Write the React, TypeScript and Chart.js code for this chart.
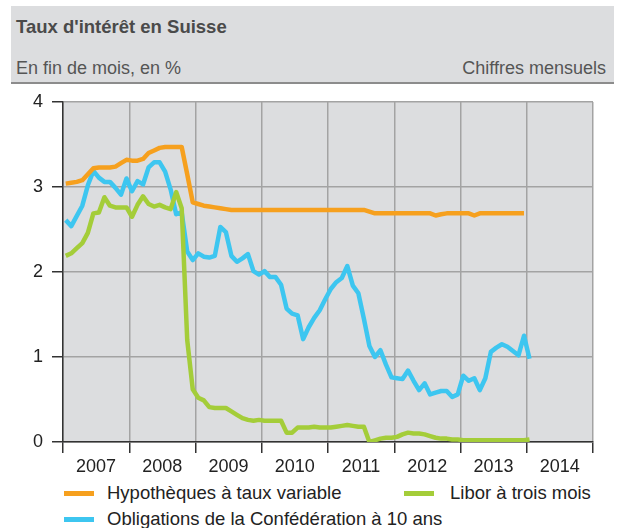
import { useEffect, useRef } from 'react';
import { Chart, registerables } from 'chart.js';

Chart.register(...registerables);

// ---- Data (monthly, Jan 2007 onward) ----
const yearLabels = ['2007', '2008', '2009', '2010', '2011', '2012', '2013', '2014'];
const yTickValues = [0, 1, 2, 3, 4];

const hypotheques = [
  3.04, 3.05, 3.06, 3.08, 3.15, 3.22, 3.23, 3.23, 3.23, 3.24,
  3.28, 3.32, 3.31, 3.31, 3.33, 3.40, 3.43, 3.46, 3.47, 3.47,
  3.47, 3.47, 3.15, 2.82, 2.80, 2.78, 2.77, 2.76, 2.75, 2.74,
  2.73, 2.73, 2.73, 2.73, 2.73, 2.73, 2.73, 2.73, 2.73, 2.73,
  2.73, 2.73, 2.73, 2.73, 2.73, 2.73, 2.73, 2.73, 2.73, 2.73,
  2.73, 2.73, 2.73, 2.73, 2.73, 2.71, 2.69, 2.69, 2.69, 2.69,
  2.69, 2.69, 2.69, 2.69, 2.69, 2.69, 2.69, 2.665, 2.68, 2.69,
  2.69, 2.69, 2.69, 2.69, 2.665, 2.69, 2.69, 2.69, 2.69, 2.69,
  2.69, 2.69, 2.69, 2.69,
];

const obligations = [
  2.61, 2.54, 2.66, 2.78, 3.02, 3.19, 3.11, 3.06, 3.06, 2.99,
  2.91, 3.10, 2.95, 3.07, 3.03, 3.23, 3.29, 3.29, 3.18, 2.97,
  2.68, 2.70, 2.24, 2.14, 2.22, 2.18, 2.17, 2.19, 2.53, 2.47,
  2.19, 2.12, 2.16, 2.21, 2.01, 1.97, 2.01, 1.94, 1.94, 1.85,
  1.57, 1.51, 1.49, 1.21, 1.35, 1.46, 1.55, 1.68, 1.80, 1.88,
  1.93, 2.07, 1.84, 1.75, 1.45, 1.13, 1.00, 1.08, 0.91, 0.76,
  0.75, 0.74, 0.84, 0.72, 0.61, 0.69, 0.56, 0.58, 0.60, 0.60,
  0.53, 0.56, 0.78, 0.72, 0.75, 0.61, 0.75, 1.06, 1.11, 1.15,
  1.12, 1.07, 1.02, 1.25, 0.98,
];

const libor = [
  2.19, 2.22, 2.28, 2.34, 2.46, 2.69, 2.70, 2.88, 2.78, 2.76,
  2.76, 2.76, 2.65, 2.79, 2.89, 2.80, 2.77, 2.79, 2.76, 2.74,
  2.94, 2.75, 1.20, 0.62, 0.52, 0.49, 0.41, 0.40, 0.40, 0.40,
  0.36, 0.32, 0.28, 0.26, 0.25, 0.26, 0.25, 0.25, 0.25, 0.25,
  0.11, 0.11, 0.17, 0.17, 0.17, 0.18, 0.17, 0.17, 0.17, 0.18,
  0.19, 0.20, 0.19, 0.18, 0.18, 0.00, 0.02, 0.04, 0.05, 0.05,
  0.06, 0.09, 0.11, 0.10, 0.10, 0.09, 0.07, 0.05, 0.04, 0.04,
  0.03, 0.03, 0.02, 0.02, 0.02, 0.02, 0.02, 0.02, 0.02, 0.02,
  0.02, 0.02, 0.02, 0.02, 0.03,
];

const seriesNames = [
  'Hypothèques à taux variable',
  'Libor à trois mois',
  'Obligations de la Confédération à 10 ans',
];

const ORANGE = '#f6a01e';
const GREEN = '#a4cd39';
const BLUE = '#3dc6f0';
const FONT = '"Liberation Sans", Arial, Helvetica, sans-serif';

const toPoints = (values: number[]) => values.map((v, i) => ({ x: i + 0.5, y: v }));

const plotBg = {
  id: 'plotBg',
  beforeDraw(chart: any) {
    const { ctx, chartArea } = chart;
    ctx.save();
    ctx.fillStyle = '#dcdddf';
    ctx.fillRect(chartArea.left, chartArea.top, chartArea.right - chartArea.left, chartArea.bottom - chartArea.top);
    ctx.restore();
  },
};

function InterestChart() {
  const ref = useRef<HTMLCanvasElement | null>(null);
  useEffect(() => {
    if (!ref.current) return;
    const gridColor = '#a3a3a3';
    const axisColor = '#333333';
    const chart = new Chart(ref.current, {
      type: 'line',
      data: {
        datasets: [
          { label: seriesNames[0], data: toPoints(hypotheques), borderColor: ORANGE, order: 0 },
          { label: seriesNames[1], data: toPoints(libor), borderColor: GREEN, order: 1 },
          { label: seriesNames[2], data: toPoints(obligations), borderColor: BLUE, order: 2 },
        ],
      },
      options: {
        responsive: false,
        animation: false,
        devicePixelRatio: 1,
        layout: { padding: { left: 0, right: 29, top: 12, bottom: 0 } },
        plugins: { legend: { display: false }, tooltip: { enabled: false } },
        elements: {
          line: { borderWidth: 4.5, tension: 0, borderJoinStyle: 'round', borderCapStyle: 'butt', fill: false },
          point: { radius: 0 },
        },
        scales: {
          x: {
            type: 'linear',
            min: 0,
            max: yearLabels.length * 12,
            afterBuildTicks: (scale: any) => {
              const t = yearLabels.map((_, k) => ({ value: k * 12 }));
              t.push({ value: yearLabels.length * 12 });
              scale.ticks = t;
            },
            afterFit: (scale: any) => {
              scale.height = 38;
              scale.paddingLeft = 0;
              scale.paddingRight = 0;
            },
            ticks: {
              autoSkip: false,
              maxRotation: 0,
              minRotation: 0,
              labelOffset: 33,
              padding: 3,
              color: '#222',
              font: { family: FONT, size: 18 },
              callback: (v: any) => yearLabels[Math.round(Number(v) / 12)] ?? '',
            },
            grid: { color: gridColor, lineWidth: 1.5, tickLength: 11, tickColor: axisColor, tickWidth: 1.5 },
            border: { color: axisColor, width: 1.5 },
          },
          y: {
            min: 0,
            max: 4,
            afterBuildTicks: (scale: any) => { scale.ticks = yTickValues.map((v) => ({ value: v })); },
            afterFit: (scale: any) => {
              scale.width = 63;
              scale.paddingTop = 0;
              scale.paddingBottom = 0;
            },
            ticks: {
              padding: 9,
              color: '#222',
              font: { family: FONT, size: 18 },
              callback: (v: any) => String(v),
            },
            grid: { color: gridColor, lineWidth: 1.5, tickLength: 11, tickColor: axisColor, tickWidth: 1.5 },
            border: { color: axisColor, width: 1.5 },
          },
        },
      } as any,
      plugins: [plotBg],
    });
    return () => chart.destroy();
  }, []);
  return (
    <canvas
      ref={ref}
      width={622}
      height={390}
      style={{ position: 'absolute', left: 0, top: 90, width: 622, height: 390 }}
    />
  );
}

export default function App() {
  const legendItems = [
    { name: seriesNames[0], color: ORANGE, left: 64, textLeft: 107, cy: 493 },
    { name: seriesNames[1], color: GREEN, left: 404, textLeft: 450, cy: 493 },
    { name: seriesNames[2], color: BLUE, left: 64, textLeft: 107, cy: 519 },
  ];
  const textBase: any = { position: 'absolute', fontFamily: FONT, fontSize: 18, lineHeight: '21px', whiteSpace: 'nowrap' };
  return (
    <div style={{ position: 'absolute', left: 0, top: 0, width: 622, height: 528, background: '#fff', overflow: 'hidden' }}>
      <div
        style={{
          position: 'absolute', left: 11, top: 6, width: 603, height: 76,
          background: '#dcdddf', borderBottom: '2px solid #8c8c8c',
        }}
      />
      <div style={{ ...textBase, left: 16, top: 16, fontSize: 18.5, fontWeight: 'bold', color: '#4a4a4a' }}>Taux d'intérêt en Suisse</div>
      <div style={{ ...textBase, left: 16, top: 58, color: '#555' }}>En fin de mois, en %</div>
      <div style={{ ...textBase, right: 16, top: 58, color: '#555' }}>Chiffres mensuels</div>
      <InterestChart />
      {legendItems.map((it) => (
        <div key={it.name}>
          <div style={{ position: 'absolute', left: it.left, top: it.cy - 2.5, width: 30, height: 5, background: it.color }} />
          <div style={{ ...textBase, left: it.textLeft, top: it.cy - 11, fontSize: 18.5, color: '#222' }}>{it.name}</div>
        </div>
      ))}
    </div>
  );
}
